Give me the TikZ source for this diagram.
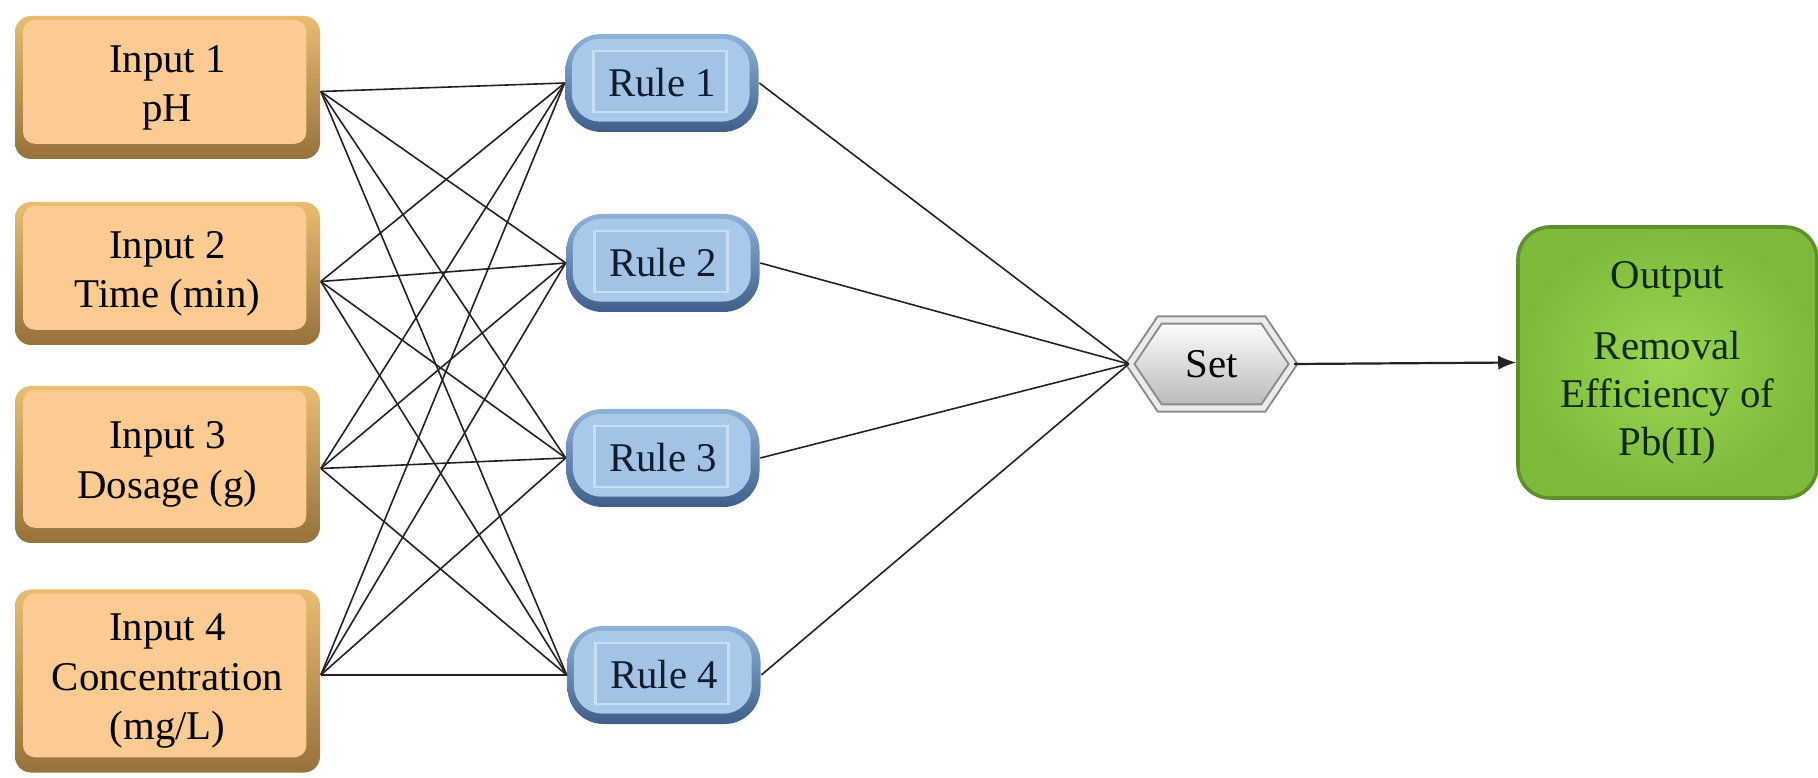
\documentclass[tikz,border=0pt]{standalone}
\usepackage{fontspec}
\setmainfont{Liberation Serif}
\usetikzlibrary{arrows.meta,shapes.symbols}
\definecolor{inface}{HTML}{FCCB92}
\definecolor{inedgetop}{HTML}{E9BD70}
\definecolor{inedgebot}{HTML}{96713A}
\definecolor{ruleface}{HTML}{A9C9EA}
\definecolor{ruleinner}{HTML}{A3C3E6}
\definecolor{ruleline}{HTML}{C9DDF3}
\definecolor{ruleedgetop}{HTML}{8FB2DA}
\definecolor{ruleedgebot}{HTML}{3D5F8A}
\definecolor{ruletext}{HTML}{101C30}
\definecolor{setdark}{HTML}{8A8A8A}
\definecolor{outin}{HTML}{9AD752}
\definecolor{outout}{HTML}{7DBA3A}
\definecolor{outedge}{HTML}{5E8F2B}
\definecolor{outtext}{HTML}{10280A}
\definecolor{wire}{HTML}{222222}
\begin{document}
\begin{tikzpicture}[x=0.25pt,y=-0.25pt,
  font=\fontsize{10.2}{12.3}\selectfont,
  inbox/.style={rectangle, rounded corners=4pt, minimum width=76.25pt,
    align=center, text=black, top color=inedgetop, bottom color=inedgebot,
    path picture={\fill[inface, rounded corners=3pt]
      ([xshift=2pt,yshift=-1pt]path picture bounding box.north west) rectangle
      ([xshift=-3.4pt,yshift=3.8pt]path picture bounding box.south east);}},
  rulebox/.style={rectangle, rounded corners=9pt, minimum width=48.25pt,
    minimum height=24.5pt, text=ruletext, top color=ruleedgetop, bottom color=ruleedgebot,
    path picture={\fill[ruleface, rounded corners=7pt]
      ([xshift=1.6pt,yshift=-1.2pt]path picture bounding box.north west) rectangle
      ([xshift=-2.2pt,yshift=2.6pt]path picture bounding box.south east);
      \draw[ruleline, line width=0.6pt, fill=ruleinner, sharp corners]
      ([xshift=7pt,yshift=-4.2pt]path picture bounding box.north west) rectangle
      ([xshift=-8pt,yshift=5pt]path picture bounding box.south east);}},
  setbox/.style={signal, signal to=west and east, signal pointer angle=112,
    minimum width=40.75pt, minimum height=22pt, inner sep=0pt,
    draw=setdark, line width=0.5pt, double=white!92!black, double distance=1.3pt,
    top color=white, bottom color=black!28},
  outbox/.style={rectangle, rounded corners=8pt, minimum width=74.75pt,
    minimum height=67.75pt, align=center, text=outtext,
    inner color=outin, outer color=outout, draw=outedge, line width=0.9pt,
    font=\fontsize{10.2}{11.9}\selectfont},
  wireline/.style={draw=wire, line width=0.4pt},
  arrowline/.style={draw=wire, line width=0.55pt, -{Latex[length=4.5pt,width=3.6pt]}}
]
\useasboundingbox (0,0) rectangle (1818,778);

% inputs
\node[inbox, minimum height=35.75pt] (in1) at (167.5,87.5) {Input 1\\pH};
\node[inbox, minimum height=35.75pt] (in2) at (167.5,273.5) {Input 2\\Time (min)};
\node[inbox, minimum height=39.25pt] (in3) at (167.5,464.5) {Input 3\\Dosage (g)};
\node[inbox, minimum height=45.75pt] (in4) at (167.5,681) {Input 4\\Concentration\\(mg/L)};

% rules
\node[rulebox] (r1) at (662,83) {Rule 1};
\node[rulebox] (r2) at (663,263) {Rule 2};
\node[rulebox] (r3) at (663,458) {Rule 3};
\node[rulebox] (r4) at (664,675) {Rule 4};

% set
\node[setbox] (set) at (1211.5,364) {Set};

% output
\node[outbox] (out) at (1667.5,362.5)
  {Output\\[6pt]Removal\\Efficiency of\\Pb(II)};

% input -> rule connectors
\foreach \i/\dy in {1/-1pt,2/-2pt,3/-1pt,4/1.5pt}{
  \foreach \j in {1,2,3,4}{
    \draw[wireline] ([yshift=\dy]in\i.east) -- (r\j.west);
  }
}
% rule -> set
\foreach \j in {1,2,3,4}{
  \draw[wireline] (r\j.east) -- (set.west);
}
% set -> output
\draw[arrowline] (set.east) -- (out.west);
\end{tikzpicture}
\end{document}
